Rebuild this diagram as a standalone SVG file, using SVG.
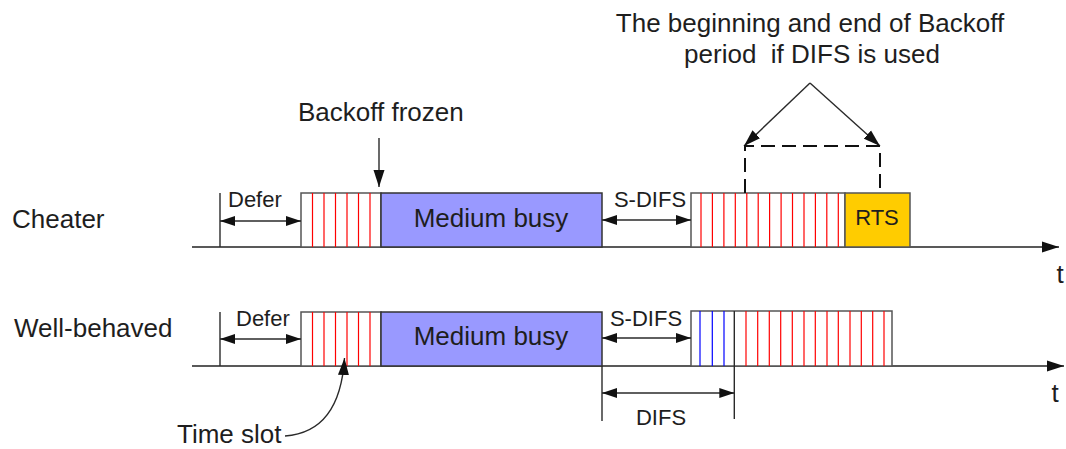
<svg xmlns="http://www.w3.org/2000/svg" width="1066" height="449" viewBox="0 0 1066 449">
<style>
text{font-family:"Liberation Sans",Arial,sans-serif;fill:#1e1e1e}
.big{font-size:26px}
.sm{font-size:22px}
.ax{stroke:#222;stroke-width:1.6;fill:none}
.ln{stroke:#2a2a2a;stroke-width:1.4;fill:none}
.box{fill:#fff;stroke:#555;stroke-width:1.5}
.busy{fill:#9999ff;stroke:#333;stroke-width:1.5}
.rts{fill:#ffcc00;stroke:#555;stroke-width:1.5}
.red{stroke:#ff0000;stroke-width:1.2}
.blue{stroke:#0000ff;stroke-width:1.2}
.dash{stroke:#111;stroke-width:2;stroke-dasharray:14 7;fill:none}
</style>
<defs>
<marker id="ah" markerUnits="userSpaceOnUse" markerWidth="18" markerHeight="12" refX="17" refY="6" orient="auto-start-reverse">
<path d="M0,0.5 L17,6 L0,11.5 z" fill="#111"/>
</marker>
<marker id="ahs" markerUnits="userSpaceOnUse" markerWidth="16" markerHeight="11" refX="15" refY="5.5" orient="auto-start-reverse">
<path d="M0,0.5 L15,5.5 L0,10.5 z" fill="#111"/>
</marker>
</defs>

<g id="labels">
<text class="big" x="12" y="228">Cheater</text>
<text class="big" x="14" y="337">Well-behaved</text>
<text class="big" x="1060" y="283" text-anchor="middle">t</text>
<text class="big" x="1055" y="402" text-anchor="middle">t</text>
</g>

<g id="axes">
<line class="ax" x1="192" y1="247" x2="1059" y2="247" marker-end="url(#ah)"/>
<line class="ax" x1="192" y1="366" x2="1064" y2="366" marker-end="url(#ah)"/>
</g>

<g id="cheater-defer">
<line class="ln" x1="220" y1="193" x2="220" y2="247"/>
<text class="sm" x="228" y="207">Defer</text>
</g>

<g id="cheater-backoff1">
<rect class="box" x="301" y="193" width="80" height="54"/>
<g class="red">
<line x1="312.5" y1="193" x2="312.5" y2="247"/><line x1="324" y1="193" x2="324" y2="247"/><line x1="335.5" y1="193" x2="335.5" y2="247"/><line x1="347" y1="193" x2="347" y2="247"/><line x1="358.5" y1="193" x2="358.5" y2="247"/><line x1="370" y1="193" x2="370" y2="247"/>
</g>
</g>

<g id="cheater-busy">
<rect class="busy" x="381" y="193" width="221" height="54"/>
<text class="big" x="491" y="227" text-anchor="middle">Medium busy</text>
</g>

<g id="cheater-sdifs">
<text class="sm" x="650" y="207" text-anchor="middle">S-DIFS</text>
</g>

<g id="cheater-backoff2">
<rect class="box" x="691" y="193" width="154" height="54"/>
<g class="red">
<line x1="701" y1="193" x2="701" y2="247"/><line x1="712.4" y1="193" x2="712.4" y2="247"/><line x1="723.9" y1="193" x2="723.9" y2="247"/><line x1="735.3" y1="193" x2="735.3" y2="247"/><line x1="746.8" y1="193" x2="746.8" y2="247"/><line x1="758.2" y1="193" x2="758.2" y2="247"/><line x1="769.6" y1="193" x2="769.6" y2="247"/><line x1="781.1" y1="193" x2="781.1" y2="247"/><line x1="792.5" y1="193" x2="792.5" y2="247"/><line x1="804" y1="193" x2="804" y2="247"/><line x1="815.4" y1="193" x2="815.4" y2="247"/><line x1="826.8" y1="193" x2="826.8" y2="247"/><line x1="838.3" y1="193" x2="838.3" y2="247"/>
</g>
</g>

<g id="cheater-rts">
<rect class="rts" x="845" y="193" width="65" height="54"/>
<text class="sm" x="877" y="225" text-anchor="middle">RTS</text>
</g>

<g id="wb-defer">
<line class="ln" x1="220" y1="312" x2="220" y2="366"/>
<text class="sm" x="236" y="326">Defer</text>
</g>

<g id="wb-backoff1">
<rect class="box" x="301" y="312" width="80" height="54"/>
<g class="red">
<line x1="312.5" y1="312" x2="312.5" y2="366"/><line x1="324" y1="312" x2="324" y2="366"/><line x1="335.5" y1="312" x2="335.5" y2="366"/><line x1="347" y1="312" x2="347" y2="366"/><line x1="358.5" y1="312" x2="358.5" y2="366"/><line x1="370" y1="312" x2="370" y2="366"/>
</g>
</g>

<g id="wb-busy">
<rect class="busy" x="381" y="312" width="221" height="54"/>
<text class="big" x="491" y="345" text-anchor="middle">Medium busy</text>
</g>

<g id="wb-sdifs">
<text class="sm" x="646" y="326" text-anchor="middle">S-DIFS</text>
</g>

<g id="wb-backoff2">
<rect class="box" x="691" y="311" width="201" height="55"/>
<g class="blue">
<line x1="700" y1="311" x2="700" y2="366"/><line x1="712.3" y1="311" x2="712.3" y2="366"/><line x1="724" y1="311" x2="724" y2="366"/>
</g>
<g class="red">
<line x1="746" y1="311" x2="746" y2="366"/><line x1="757.7" y1="311" x2="757.7" y2="366"/><line x1="769.3" y1="311" x2="769.3" y2="366"/><line x1="780.7" y1="311" x2="780.7" y2="366"/><line x1="792.3" y1="311" x2="792.3" y2="366"/><line x1="804" y1="311" x2="804" y2="366"/><line x1="815.3" y1="311" x2="815.3" y2="366"/><line x1="827" y1="311" x2="827" y2="366"/><line x1="838.3" y1="311" x2="838.3" y2="366"/><line x1="850" y1="311" x2="850" y2="366"/><line x1="861.3" y1="311" x2="861.3" y2="366"/><line x1="872.7" y1="311" x2="872.7" y2="366"/><line x1="884" y1="311" x2="884" y2="366"/>
</g>
</g>

<g id="wb-difs">
<line class="ln" x1="602" y1="366" x2="602" y2="421"/>
<line class="ln" x1="734.3" y1="311" x2="734.3" y2="419"/>
<text class="sm" x="661" y="425" text-anchor="middle">DIFS</text>
</g>

<g id="backoff-frozen">
<text class="big" x="298" y="121">Backoff frozen</text>
</g>

<g id="time-slot">
<text class="big" x="177" y="443">Time slot</text>
</g>

<g id="difs-note">
<text class="big" x="810" y="32" text-anchor="middle">The beginning and end of Backoff</text>
<text class="big" x="812" y="63" text-anchor="middle" xml:space="preserve">period  if DIFS is used</text>
</g>

<g id="connectors">
<line class="ln" x1="220" y1="221" x2="301" y2="221" marker-start="url(#ahs)" marker-end="url(#ahs)"/>
<line class="ln" x1="602" y1="220" x2="691" y2="220" marker-start="url(#ahs)" marker-end="url(#ahs)"/>
<line class="ln" x1="220" y1="339" x2="301" y2="339" marker-start="url(#ahs)" marker-end="url(#ahs)"/>
<line class="ln" x1="602" y1="338" x2="691" y2="338" marker-start="url(#ahs)" marker-end="url(#ahs)"/>
<line class="ln" x1="602" y1="393" x2="734.3" y2="393" marker-start="url(#ahs)" marker-end="url(#ahs)"/>
<line class="ln" x1="379" y1="138" x2="379" y2="187" marker-end="url(#ah)"/>
<line class="ln" x1="810" y1="83" x2="744" y2="146" marker-end="url(#ah)"/>
<line class="ln" x1="810" y1="83" x2="880" y2="146" marker-end="url(#ah)"/>
<path class="dash" d="M745,193 V146 H880 V193"/>
<path class="ln" d="M285,436 Q340,432 344.5,358" marker-end="url(#ah)"/>
</g>
</svg>
